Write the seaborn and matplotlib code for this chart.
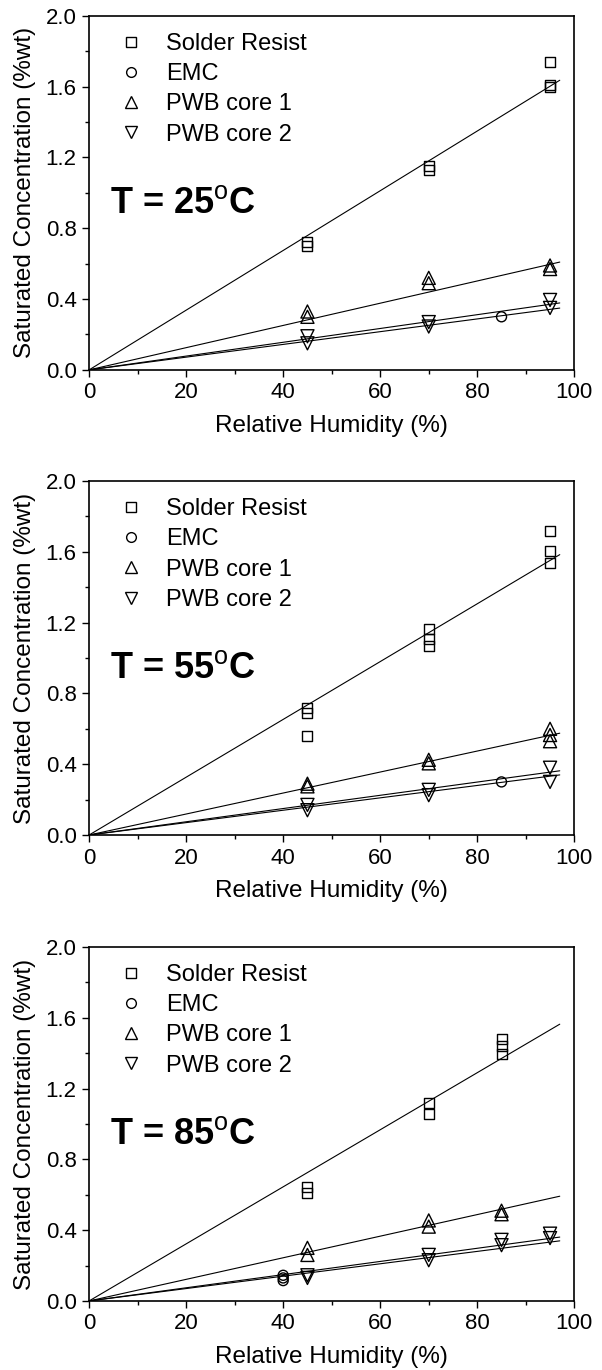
import numpy as np
import pandas as pd
import matplotlib
matplotlib.use("Agg")
import matplotlib.pyplot as plt
import seaborn as sns
from matplotlib.lines import Line2D
from matplotlib.ticker import MultipleLocator, FormatStrFormatter

sns.set_style("white")
plt.rcParams["font.family"] = ["Liberation Sans", "DejaVu Sans"]
plt.rcParams["mathtext.fontset"] = "custom"
plt.rcParams["mathtext.rm"] = "Liberation Sans"
plt.rcParams["mathtext.bf"] = "Liberation Sans:bold"
plt.rcParams["text.color"] = "black"
plt.rcParams["axes.labelcolor"] = "black"
plt.rcParams["xtick.color"] = "black"
plt.rcParams["ytick.color"] = "black"

materials = ["Solder Resist", "EMC", "PWB core 1", "PWB core 2"]
temperatures = [25, 55, 85]
x_ticks = [0, 20, 40, 60, 80, 100]
y_ticks = [0.0, 0.4, 0.8, 1.2, 1.6, 2.0]
fit_rh = [0, 97]

# ---- T = 25 C ----
sr_25_rh = [45, 45, 70, 70, 95, 95, 95]
sr_25_c = [0.72, 0.70, 1.15, 1.13, 1.74, 1.61, 1.60]
emc_25_rh = [85]
emc_25_c = [0.30]
c1_25_rh = [45, 45, 70, 70, 95, 95]
c1_25_c = [0.33, 0.30, 0.52, 0.49, 0.59, 0.57]
c2_25_rh = [45, 45, 70, 70, 95, 95]
c2_25_c = [0.19, 0.15, 0.27, 0.245, 0.395, 0.35]
slope_25 = [0.01687, 0.0036, 0.00628, 0.0039]

# ---- T = 55 C ----
sr_55_rh = [45, 45, 45, 70, 70, 70, 95, 95, 95]
sr_55_c = [0.72, 0.69, 0.56, 1.165, 1.11, 1.07, 1.715, 1.605, 1.535]
emc_55_rh = [85]
emc_55_c = [0.30]
c1_55_rh = [45, 45, 70, 70, 95, 95, 95]
c1_55_c = [0.29, 0.275, 0.425, 0.405, 0.60, 0.565, 0.53]
c2_55_rh = [45, 45, 70, 70, 95, 95]
c2_55_c = [0.17, 0.14, 0.255, 0.225, 0.38, 0.30]
slope_55 = [0.01633, 0.0035, 0.00593, 0.00374]

# ---- T = 85 C ----
sr_85_rh = [45, 45, 70, 70, 85, 85, 85]
sr_85_c = [0.645, 0.61, 1.12, 1.055, 1.48, 1.44, 1.395]
emc_85_rh = [40, 40, 40]
emc_85_c = [0.145, 0.13, 0.115]
c1_85_rh = [45, 45, 70, 70, 85, 85]
c1_85_c = [0.30, 0.26, 0.455, 0.42, 0.51, 0.49]
c2_85_rh = [45, 45, 70, 70, 85, 85, 95, 95]
c2_85_c = [0.145, 0.13, 0.26, 0.23, 0.345, 0.315, 0.38, 0.355]
slope_85 = [0.01612, 0.0035, 0.0061, 0.00372]

panels = [
    (25, [(sr_25_rh, sr_25_c), (emc_25_rh, emc_25_c), (c1_25_rh, c1_25_c), (c2_25_rh, c2_25_c)], slope_25),
    (55, [(sr_55_rh, sr_55_c), (emc_55_rh, emc_55_c), (c1_55_rh, c1_55_c), (c2_55_rh, c2_55_c)], slope_55),
    (85, [(sr_85_rh, sr_85_c), (emc_85_rh, emc_85_c), (c1_85_rh, c1_85_c), (c2_85_rh, c2_85_c)], slope_85),
]

marker_map = {"Solder Resist": "s", "EMC": "o", "PWB core 1": "^", "PWB core 2": "v"}
size_map = {"Solder Resist": 7.2, "EMC": 7.2, "PWB core 1": 9.4, "PWB core 2": 9.4}
legend_size = {"Solder Resist": 6.5, "EMC": 7.0, "PWB core 1": 8.5, "PWB core 2": 8.5}

fig = plt.figure(figsize=(6.02, 13.7), dpi=100)
bottoms = [0.730, 0.3905, 0.0504]

for (temp, series, slopes), b in zip(panels, bottoms):
    ax = fig.add_axes([0.148, b, 0.806, 0.2584])
    for mat, (rh, c), k in zip(materials, series, slopes):
        fx = np.array(fit_rh, dtype=float)
        sns.lineplot(x=fx, y=k * fx, ax=ax, color="black", linewidth=0.8)
        sns.scatterplot(x=rh, y=c, ax=ax, marker=marker_map[mat],
                        s=size_map[mat] ** 2, linewidth=1.0)
        coll = ax.collections[-1]
        coll.set_facecolor("none")
        coll.set_edgecolor("black")
    ax.set_xlim(0, 100)
    ax.set_ylim(0, 2.0)
    ax.set_xticks(x_ticks)
    ax.set_yticks(y_ticks)
    ax.xaxis.set_minor_locator(MultipleLocator(10))
    ax.yaxis.set_minor_locator(MultipleLocator(0.2))
    ax.yaxis.set_major_formatter(FormatStrFormatter("%.1f"))
    ax.tick_params(axis="both", which="major", direction="out", length=5,
                   width=1.0, labelsize=16, pad=4, colors="black",
                   bottom=True, left=True, top=False, right=False)
    ax.tick_params(axis="both", which="minor", direction="out", length=3,
                   width=1.0, bottom=True, left=True, top=False, right=False)
    for sp in ax.spines.values():
        sp.set_visible(True)
        sp.set_color("black")
        sp.set_linewidth(1.2)
    ax.set_xlabel("Relative Humidity (%)", fontsize=17.5, labelpad=8)
    ax.set_ylabel("Saturated Concentration (%wt)", fontsize=17.5, labelpad=7)
    ax.text(4.3, 0.889, "T = %d$^{\\mathrm{o}}$C" % temp, fontsize=26,
            fontweight="bold", va="baseline", ha="left")
    handles = [Line2D([], [], ls="none", marker=marker_map[m], mfc="none",
                      mec="black", mew=1.0, ms=legend_size[m]) for m in materials]
    ax.legend(handles, materials, loc="upper left", bbox_to_anchor=(0.062, 0.952),
              frameon=False, fontsize=17, handlelength=1.0, handletextpad=0.97,
              labelspacing=0.35, borderpad=0, borderaxespad=0)

fig.savefig("out.png", dpi=100, facecolor="white")
